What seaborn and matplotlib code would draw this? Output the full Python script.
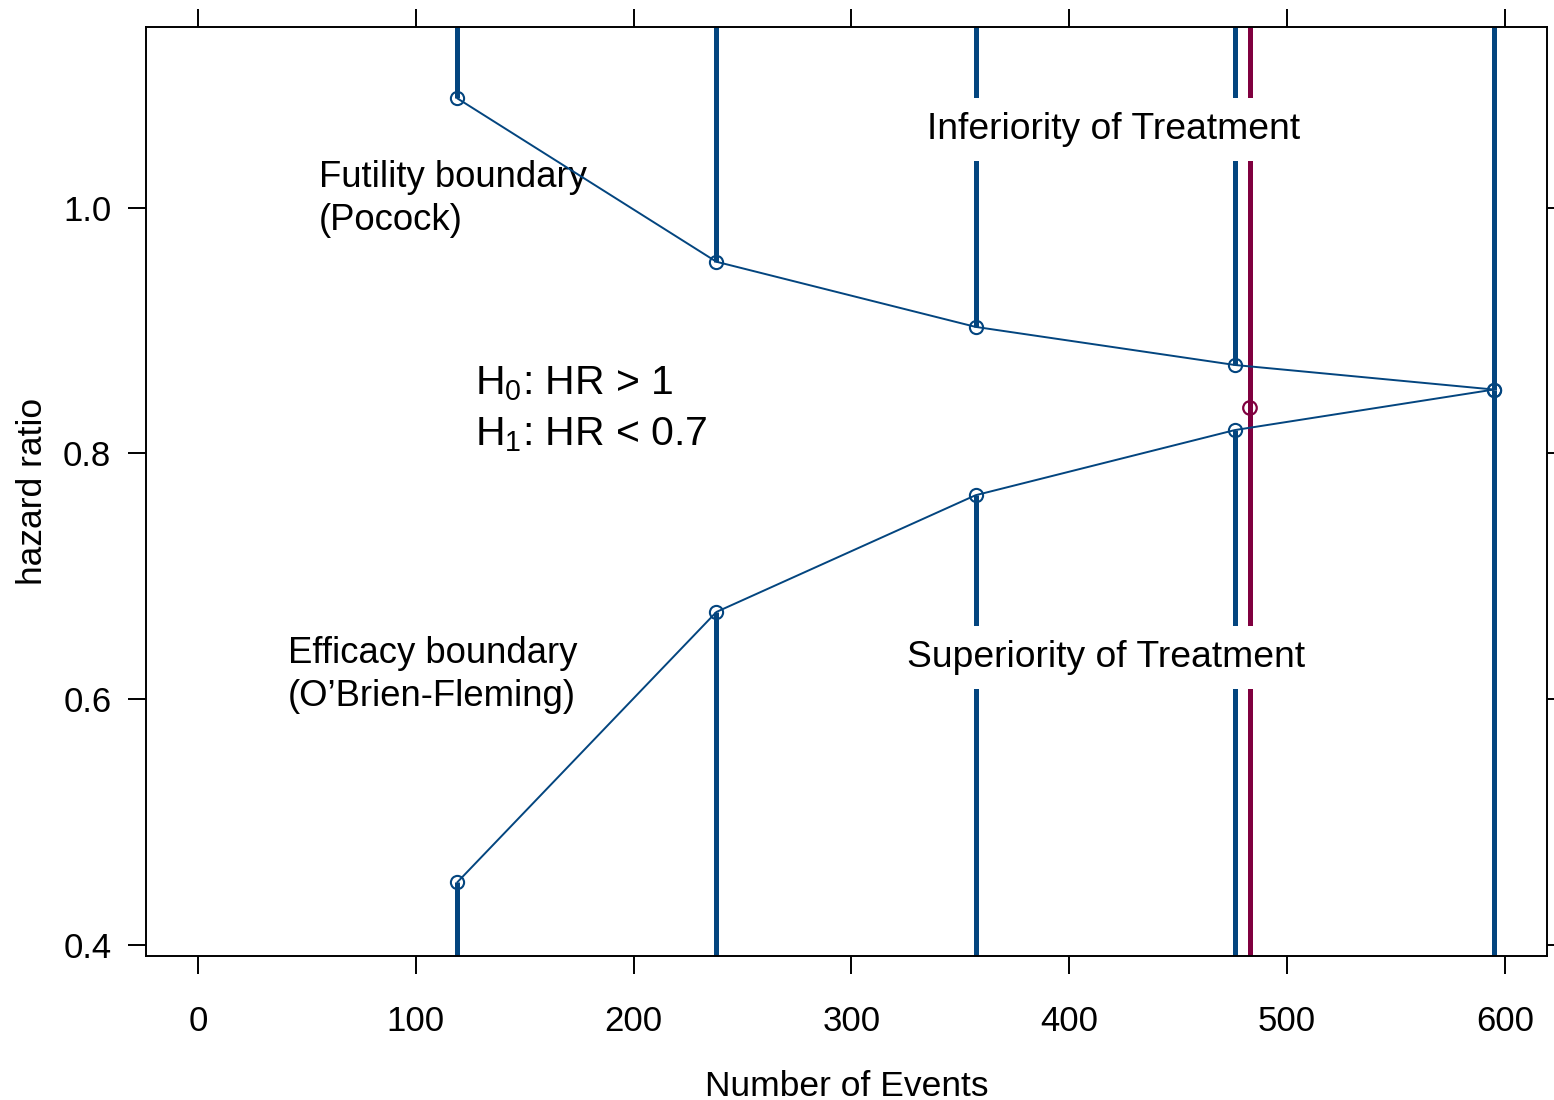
import matplotlib
matplotlib.use("Agg")
import matplotlib.pyplot as plt
import seaborn as sns

# Group sequential design: boundaries on the hazard-ratio scale
events = [119, 238, 357, 476, 595]
futility_hr = [1.089, 0.956, 0.903, 0.872, 0.852]
efficacy_hr = [0.451, 0.671, 0.766, 0.819, 0.852]

observed_events = [483]
observed_hr = [0.837]

x_ticks = [0, 100, 200, 300, 400, 500, 600]
y_ticks = [0.4, 0.6, 0.8, 1.0]

blue = "#03457f"
crimson = "#80003f"

sns.set_style("ticks")
plt.rcParams['font.family'] = ['Liberation Sans', 'DejaVu Sans']
plt.rcParams['mathtext.default'] = 'regular'
plt.rcParams['text.color'] = 'black'
plt.rcParams['axes.labelcolor'] = 'black'

fig = plt.figure(figsize=(15.54, 11), dpi=100)
ax = fig.add_axes([0.0940, 0.1309, 0.9015, 0.8445])

ax.set_xlim(-23.9, 619.4)
ax.set_ylim(0.391, 1.147)
y_lo, y_hi = ax.get_ylim()

# rejection regions drawn as thick vertical bars
ax.vlines(events, futility_hr, y_hi, color=blue, lw=3.6, zorder=2)
ax.vlines(events, y_lo, efficacy_hr, color=blue, lw=3.6, zorder=2)
ax.vlines(observed_events, y_lo, y_hi, color=crimson, lw=3.6, zorder=2)

# boundaries
for hr in [futility_hr, efficacy_hr]:
    sns.lineplot(x=events, y=hr, ax=ax, color=blue, lw=1.4, marker='o',
                 markersize=9.5, markerfacecolor='none', markeredgecolor=blue,
                 markeredgewidth=1.5, zorder=3)
sns.scatterplot(x=observed_events, y=observed_hr, ax=ax, s=95,
                facecolor='none', edgecolor=crimson, linewidth=1.6, zorder=4)

box = dict(boxstyle='square,pad=0.38', facecolor='white', edgecolor='none')
ax.text(420.3, 1.0635, "Inferiority of Treatment", fontsize=26.8,
        ha='center', va='center', bbox=box, zorder=5)
ax.text(416.9, 0.634, "Superiority of Treatment", fontsize=26.8,
        ha='center', va='center', bbox=box, zorder=5)

ax.text(55.6, 1.007, "Futility boundary\n(Pocock)", fontsize=26.3,
        ha='left', va='center', linespacing=1.3, zorder=1)
ax.text(41.3, 0.620, "Efficacy boundary\n(O\u2019Brien-Fleming)", fontsize=26.3,
        ha='left', va='center', linespacing=1.3, zorder=1)

ax.text(127.2, 0.848, r"H$_0$: HR > 1", fontsize=29.5, ha='left', va='baseline')
ax.text(127.2, 0.8065, r"H$_1$: HR < 0.7", fontsize=29.5, ha='left', va='baseline')

ax.set_xticks(x_ticks)
ax.set_yticks(y_ticks)
ax.set_yticklabels([f"{v:.1f}" for v in y_ticks])
ax.tick_params(axis='both', which='both', direction='out', length=13,
               width=1.4, labelsize=25, top=True, right=True,
               color='black', labelcolor='black')
ax.tick_params(axis='x', pad=22)
ax.tick_params(axis='y', pad=12)

for side in ['top', 'bottom', 'left', 'right']:
    ax.spines[side].set_visible(True)
    ax.spines[side].set_linewidth(1.4)
    ax.spines[side].set_color('black')

ax.set_xlabel("Number of Events", fontsize=25.5, labelpad=23)
ax.set_ylabel("hazard ratio", fontsize=25.5, labelpad=10)

fig.savefig("out.png", dpi=100)
